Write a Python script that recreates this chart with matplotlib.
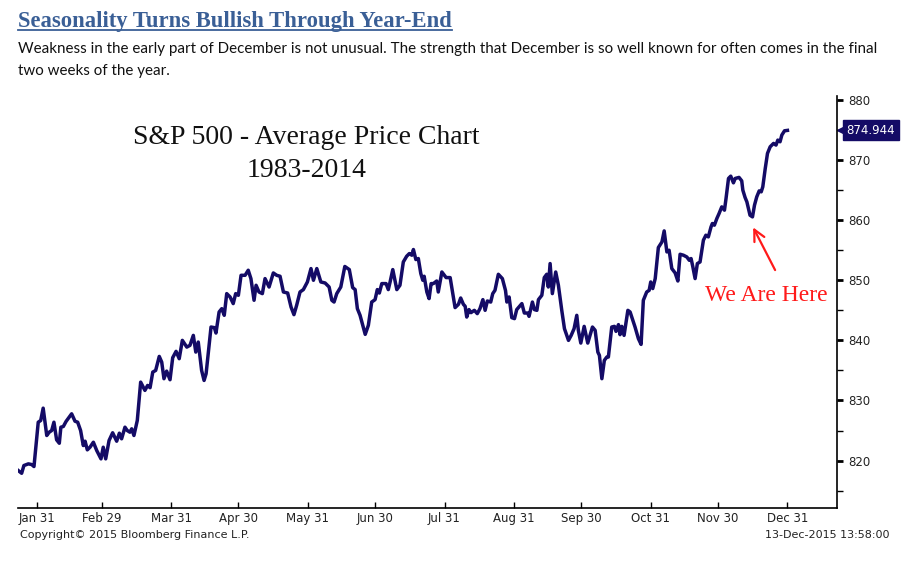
import matplotlib
matplotlib.use('Agg')
import matplotlib.pyplot as plt
import matplotlib.transforms as mtransforms
from matplotlib.lines import Line2D

#Average S&P 500 path 1983-2014, x = day of year on a leap-year calendar
day_of_year = [22.8, 24.3, 25.3, 27.3, 28.8, 29.8, 31.7, 32.8, 33.9, 35.5, 36.6, 37.7, 38.7, 39.9,
               41.1, 41.8, 42.9, 44.1, 45.5, 46.6, 48.1, 49.3, 50.6, 51.8, 52.6, 53.6, 54.8, 56.3,
               57.8, 59.7, 60.7, 61.8, 63.3, 64.9, 66.7, 67.9, 68.9, 70.4, 71.4, 72.6, 73.4, 74.4,
               75.9, 77.4, 79.3, 80.5, 81.6, 82.8, 84.1, 85.7, 86.8, 87.8, 89.0, 90.5, 91.7, 93.2,
               94.6, 96.0, 98.0, 99.4, 100.9, 102.0, 103.1, 104.6, 105.7, 106.6, 108.8, 110.3, 111.0,
               112.4, 113.6, 114.7, 115.8, 117.3, 118.7, 119.8, 121.0, 122.2, 124.0, 125.4, 126.6,
               128.0, 128.9, 130.2, 131.7, 132.9, 134.7, 136.6, 138.1, 139.6, 141.1, 143.0, 144.5,
               145.8, 147.0, 148.5, 150.0, 151.8, 153.4, 154.5, 156.0, 157.8, 159.7, 161.5, 162.7,
               163.7, 164.9, 166.7, 168.5, 170.5, 172.0, 173.1, 174.1, 175.3, 177.6, 179.0, 180.5,
               182.0, 183.0, 183.9, 185.0, 186.9, 187.9, 188.7, 189.9, 191.7, 193.1, 194.6, 196.1,
               197.3, 198.4, 199.1, 200.2, 201.3, 202.4, 203.3, 203.9, 205.1, 206.1, 207.0, 208.0,
               209.5, 210.2, 211.8, 213.7, 215.5, 216.7, 217.7, 219.2, 220.2, 221.4, 222.2, 222.9,
               223.9, 224.8, 226.3, 227.6, 228.8, 230.1, 231.1, 232.1, 233.6, 234.5, 235.5, 237.0,
               238.8, 240.2, 240.8, 241.8, 243.0, 244.2, 245.2, 247.5, 248.6, 250.1, 250.7, 252.2,
               253.1, 254.2, 254.9, 256.4, 257.5, 258.6, 259.3, 260.1, 261.1, 262.6, 263.8, 265.3,
               266.5, 268.3, 269.5, 270.8, 272.0, 272.7, 273.8, 275.3, 276.9, 279.0, 280.2, 281.4,
               282.1, 283.2, 284.3, 285.4, 286.1, 287.6, 288.8, 289.5, 290.6, 291.3, 292.1, 293.1,
               294.8, 295.8, 298.0, 299.5, 300.7, 301.7, 303.2, 304.3, 305.0, 305.9, 307.0, 308.4,
               310.0, 311.0, 312.2, 313.2, 314.4, 315.9, 317.1, 318.1, 319.6, 321.1, 322.2, 323.0,
               323.8, 324.8, 325.8, 327.0, 328.5, 329.6, 330.7, 331.9, 332.5, 333.4, 334.5, 335.5,
               336.7, 337.9, 338.6, 339.7, 340.7, 341.9, 342.7, 344.4, 345.6, 346.1, 347.1, 347.9,
               349.3, 350.4, 351.3, 352.3, 353.4, 354.3, 355.0, 356.1, 357.1, 358.3, 359.8, 360.9,
               361.7, 362.7, 363.5, 364.7, 366.0]
avg_price = [818.33, 817.88, 819.17, 819.45, 819.33, 819.0, 826.38, 826.67, 828.72, 824.17, 824.72,
             825.0, 826.38, 823.45, 822.88, 825.55, 825.67, 826.5, 827.22, 827.78, 826.55, 826.38,
             825.0, 822.5, 823.22, 821.78, 822.22, 823.05, 821.67, 820.28, 822.22, 820.28, 823.33,
             824.62, 823.22, 824.55, 823.62, 825.55, 825.0, 824.72, 825.28, 824.17, 826.67, 833.05,
             831.67, 832.5, 832.12, 834.72, 835.0, 837.33, 836.38, 833.62, 834.88, 833.45, 837.12,
             838.17, 836.95, 840.0, 838.88, 839.17, 840.83, 838.05, 839.72, 835.0, 833.33, 834.45,
             842.22, 842.12, 841.22, 844.72, 845.28, 844.17, 847.78, 847.22, 846.12, 847.78, 847.5,
             850.83, 850.83, 851.67, 850.28, 846.67, 849.17, 848.05, 847.78, 850.28, 848.88, 851.22,
             850.83, 850.67, 848.05, 847.88, 845.55, 844.28, 845.83, 848.05, 848.45, 849.72, 851.95,
             850.0, 851.95, 849.72, 849.55, 848.88, 846.67, 846.38, 847.78, 848.88, 852.3, 851.78,
             848.78, 848.45, 845.28, 844.17, 841.0, 842.5, 846.38, 846.78, 848.45, 847.88, 849.45,
             849.45, 848.45, 849.72, 851.78, 848.45, 849.17, 853.05, 854.0, 854.45, 854.17, 855.12,
             853.45, 853.62, 851.12, 850.0, 850.67, 848.05, 846.95, 849.45, 849.45, 849.88, 848.05,
             851.38, 850.45, 850.45, 847.78, 845.45, 846.0, 847.05, 846.0, 845.67, 843.88, 845.12,
             844.62, 845.0, 844.45, 845.28, 846.78, 845.0, 846.55, 846.38, 847.78, 848.33, 851.0,
             850.28, 848.3, 846.38, 847.22, 843.78, 843.62, 845.12, 846.12, 844.55, 844.55, 844.0,
             846.38, 845.12, 845.0, 846.78, 847.5, 850.45, 851.0, 848.88, 852.78, 847.78, 851.38,
             849.17, 845.0, 841.95, 840.0, 840.83, 841.95, 844.17, 841.67, 839.55, 842.33, 839.55,
             842.22, 841.67, 838.05, 837.5, 833.62, 836.67, 837.22, 837.22, 842.22, 842.33, 841.5,
             842.62, 840.95, 842.33, 840.83, 845.0, 844.72, 842.22, 840.28, 839.33, 846.67, 848.05,
             848.33, 849.72, 848.62, 850.28, 855.45, 856.38, 858.22, 854.72, 855.0, 851.95, 851.22,
             849.88, 854.33, 854.17, 853.88, 853.33, 853.62, 852.22, 850.28, 852.78, 853.05, 856.67,
             857.5, 857.22, 858.88, 859.45, 859.17, 860.28, 861.12, 862.22, 861.67, 863.62, 866.95,
             867.33, 866.22, 866.95, 867.12, 866.55, 865.0, 863.78, 863.05, 860.83, 860.55, 862.5,
             863.88, 864.88, 864.72, 865.55, 868.62, 871.12, 872.22, 872.78, 872.5, 873.33, 873.05,
             874.17, 874.88, 874.944]

month_ticks = [31, 60, 91, 121, 152, 182, 213, 244, 274, 305, 335, 366]
month_labels = ['Jan 31', 'Feb 29', 'Mar 31', 'Apr 30', 'May 31', 'Jun 30',
                'Jul 31', 'Aug 31', 'Sep 30', 'Oct 31', 'Nov 30', 'Dec 31']
price_ticks = [820, 830, 840, 850, 860, 870, 880]
minor_ticks = [815, 825, 835, 845, 855, 865, 875]
last_value = 874.944

navy = '#140b66'
red = '#ff1a1a'
title_blue = '#3a5f96'

fig = plt.figure(figsize=(9.1, 5.67), dpi=100)
ax = fig.add_axes([0.0201, 0.1035, 0.8994, 0.7272])

ax.plot(day_of_year, avg_price, color=navy, lw=2.5, solid_joinstyle='round')
ax.set_xlim(22.8, 388)
ax.set_ylim(812.05, 880.67)

ax.spines['top'].set_visible(False)
ax.spines['left'].set_visible(False)
ax.spines['right'].set_linewidth(1.2)
ax.spines['bottom'].set_linewidth(1.2)

ax.yaxis.tick_right()
ax.set_yticks(price_ticks)
ax.set_yticks(minor_ticks, minor=True)
ax.tick_params(axis='y', which='major', direction='out', length=4, width=2, pad=4,
               labelsize=8.5, labelcolor='#222222')
ax.tick_params(axis='y', which='minor', direction='out', length=4, width=1)
ax.set_xticks(month_ticks)
ax.set_xticklabels(month_labels)
ax.tick_params(axis='x', direction='in', length=4, width=1, pad=3, labelsize=8.5,
               labelcolor='#222222')

#last value tag on the right axis, its point touching the spine
trans = mtransforms.blended_transform_factory(ax.transAxes, ax.transData)
tip = mtransforms.offset_copy(trans, fig=fig, x=3.5, units='points')
ax.plot([1.0], [last_value], marker='<', color=navy, ms=7, transform=tip, clip_on=False)
ax.text(1.012, last_value, '%.3f' % last_value, transform=trans, ha='left', va='center',
        fontsize=8.5, color='white',
        bbox=dict(boxstyle='square,pad=0.3', fc=navy, ec=navy))

#chart labels
ax.text(0.352, 0.9, 'S&P 500 - Average Price Chart', transform=ax.transAxes, ha='center',
        va='center', fontsize=20, family='Liberation Serif', color='#111111')
ax.text(0.352, 0.82, '1983-2014', transform=ax.transAxes, ha='center', va='center',
        fontsize=20, family='Liberation Serif', color='#111111')
ax.text(0.914, 0.515, 'We Are Here', transform=ax.transAxes, ha='center', va='center',
        fontsize=17, family='Liberation Serif', color=red)
ax.annotate('', xy=(350.7, 858.8), xytext=(360.5, 851.7),
            arrowprops=dict(arrowstyle='->,head_length=0.8,head_width=0.4', color=red, lw=1.6,
                            shrinkA=0, shrinkB=0))

#header and footer
title = fig.text(0.02, 0.962, 'Seasonality Turns Bullish Through Year-End', ha='left', va='center',
                 fontsize=16.3, fontweight='bold', family='Liberation Serif', color=title_blue)
sub1 = fig.text(0.02, 0.913, 'Weakness in the early part of December is not unusual. The strength that '
                'December is so well known for often comes in the final', ha='left', va='center',
                fontsize=10.5, family=['Lato', 'DejaVu Sans'], color='#111111')
sub2 = fig.text(0.02, 0.874, 'two weeks of the year.', ha='left', va='center',
                fontsize=10.5, family=['Lato', 'DejaVu Sans'], color='#111111')
fig.text(0.022, 0.057, 'Copyright\u00a9 2015 Bloomberg Finance L.P.', ha='left', va='center',
         fontsize=8, color='#222222')
fig.text(0.978, 0.057, '13-Dec-2015 13:58:00', ha='right', va='center',
         fontsize=8, color='#222222')

#fit the subtitle to the width of the reference paragraph
fig.canvas.draw()
w = sub1.get_window_extent().width
size = 10.5 * 865.0 / w
sub1.set_fontsize(size)
sub2.set_fontsize(size)

#underline the title
fig.canvas.draw()
bb = title.get_window_extent().transformed(fig.transFigure.inverted())
fig.add_artist(Line2D([bb.x0, bb.x1], [bb.y0 + 0.004, bb.y0 + 0.004], color=title_blue, lw=1.3))

plt.savefig('out.png', dpi=100)
plt.close()
